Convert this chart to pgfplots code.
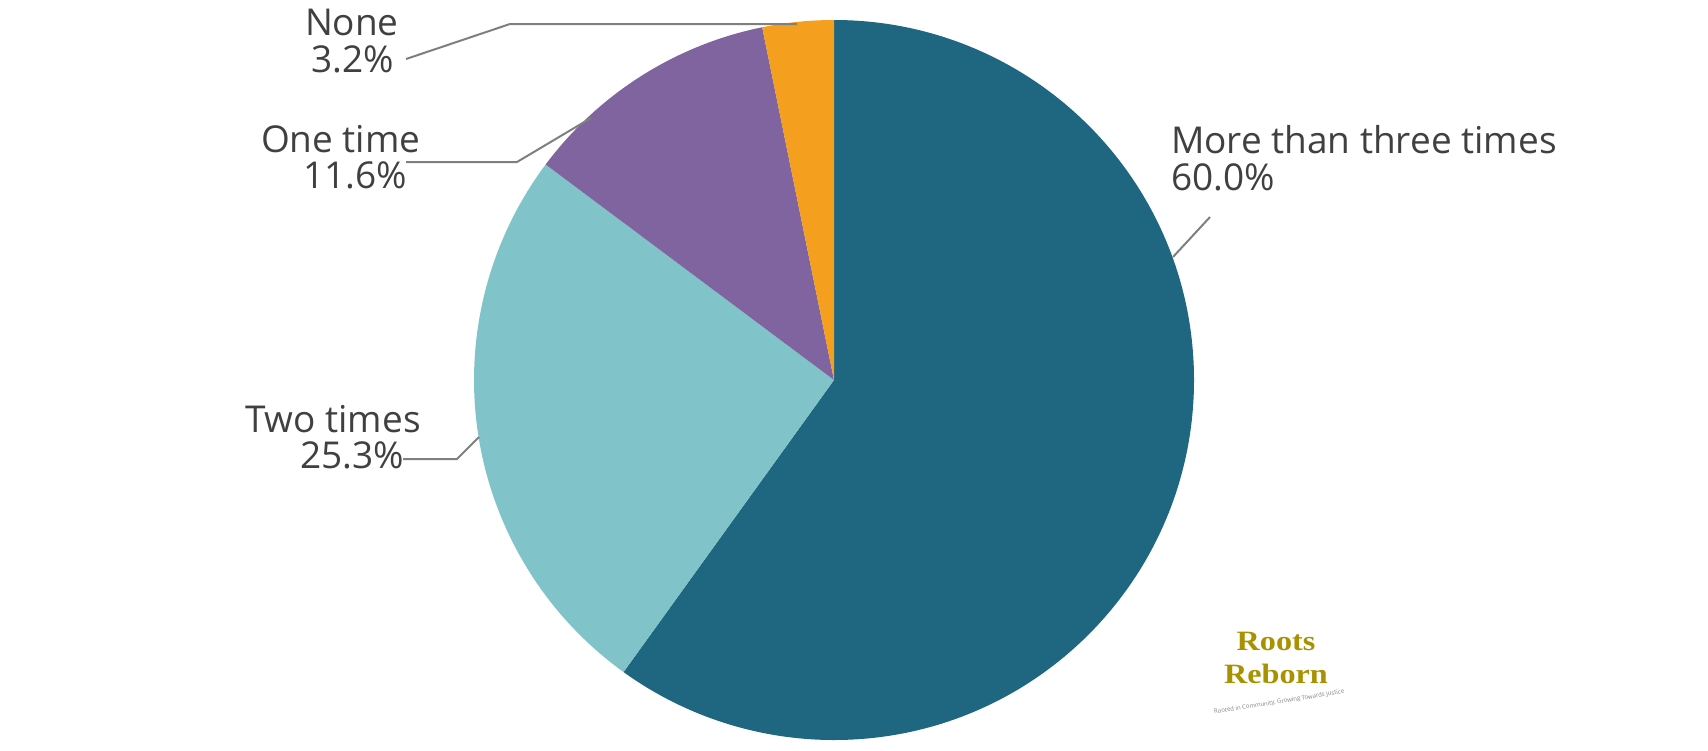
\documentclass[border=0pt]{standalone}
\usepackage{pgfplots}
\usepackage{pgfplotstable}
\pgfplotsset{compat=1.18}
\usepackage{fontspec}
\setmainfont{Open Sans}
\newfontfamily\logofont[FakeStretch=1.15]{Liberation Serif}
\definecolor{cMore}{HTML}{1F6680}
\definecolor{cTwo}{HTML}{80C4CA}
\definecolor{cOne}{HTML}{7F649F}
\definecolor{cNone}{HTML}{F59F1E}
\definecolor{txt}{HTML}{404040}
\definecolor{lead}{HTML}{7F7F7F}
\definecolor{olive}{HTML}{A89200}

% pie data (percent), clockwise from 12 o'clock
\pgfplotstableread[col sep=comma]{
label,value
More than three times,60.0
Two times,25.3
One time,11.6
None,3.2
}\piedata

\pgfplotstablegetelem{0}{value}\of\piedata \let\vA\pgfplotsretval
\pgfplotstablegetelem{1}{value}\of\piedata \let\vB\pgfplotsretval
\pgfplotstablegetelem{2}{value}\of\piedata \let\vC\pgfplotsretval
\pgfplotstablegetelem{3}{value}\of\piedata \let\vD\pgfplotsretval
\pgfmathsetmacro\tot{\vA+\vB+\vC+\vD}
\pgfmathsetmacro\aA{90-\vA/\tot*360}
\pgfmathsetmacro\aB{\aA-\vB/\tot*360}
\pgfmathsetmacro\aC{\aB-\vC/\tot*360}
\pgfmathsetmacro\aD{\aC-\vD/\tot*360}

\tikzset{lbl/.style={font=\fontsize{18.5pt}{18.5pt}\selectfont, text=txt, inner sep=0pt, outer sep=0pt, anchor=base west}}

\begin{document}
\begin{tikzpicture}
\begin{axis}[
  name=ax,
  hide axis,
  scale only axis,
  x=0.5pt, y=0.5pt,
  xmin=0, xmax=1708, ymin=0, ymax=750,
  y dir=reverse,
  clip=false,
]
\def\R{180pt}
\fill[cMore] (axis cs:834,380) -- ++(90:\R) arc[start angle=90, end angle=\aA, radius=\R] -- cycle;
\fill[cTwo]  (axis cs:834,380) -- ++(\aA:\R) arc[start angle=\aA, end angle=\aB, radius=\R] -- cycle;
\fill[cOne]  (axis cs:834,380) -- ++(\aB:\R) arc[start angle=\aB, end angle=\aC, radius=\R] -- cycle;
\fill[cNone] (axis cs:834,380) -- ++(\aC:\R) arc[start angle=\aC, end angle=\aD, radius=\R] -- cycle;

% leader lines
\draw[lead, line width=1pt] (axis cs:1210,217) -- (axis cs:1173,257);
\draw[lead, line width=1pt] (axis cs:403,459) -- (axis cs:457,459) -- (axis cs:479,437);
\draw[lead, line width=1pt] (axis cs:406,162) -- (axis cs:517,162) -- (axis cs:591,118);
\draw[lead, line width=1pt] (axis cs:406,59) -- (axis cs:510,24) -- (axis cs:797,24);

% labels
\node[lbl] at (axis cs:1171,153) {More than three times};
\node[lbl] at (axis cs:1171,190) {60.0\%};
\node[lbl] at (axis cs:245,432) {Two times};
\node[lbl] at (axis cs:300,468) {25.3\%};
\node[lbl] at (axis cs:261,152) {One time};
\node[lbl] at (axis cs:303,188) {11.6\%};
\node[lbl] at (axis cs:305,35) {None};
\node[lbl] at (axis cs:311,72) {3.2\%};

% logo
\node[anchor=north, inner sep=0pt, align=center, text=olive,
      font=\logofont\bfseries\fontsize{14pt}{16.5pt}\selectfont] at (axis cs:1276,632) {Roots\\Reborn};
\node[anchor=base west, inner sep=0pt, rotate=9, text=gray, font=\fontsize{3pt}{3pt}\selectfont] at (axis cs:1214,714) {Rooted in Community, Growing Towards Justice};
\end{axis}
\pgfresetboundingbox
\path[use as bounding box] (ax.south west) rectangle (ax.north east);
\end{tikzpicture}
\end{document}
